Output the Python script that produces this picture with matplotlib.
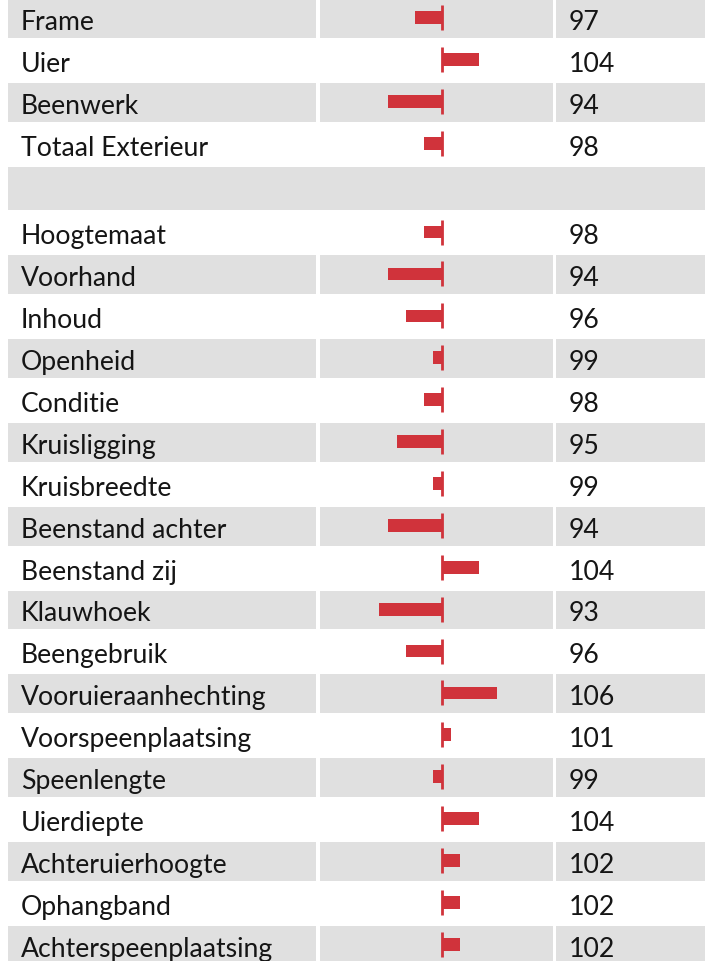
import matplotlib
matplotlib.use("Agg")
import matplotlib.pyplot as plt
from matplotlib.patches import Rectangle

labels = ["Frame", "Uier", "Beenwerk", "Totaal Exterieur", "",
          "Hoogtemaat", "Voorhand", "Inhoud", "Openheid", "Conditie",
          "Kruisligging", "Kruisbreedte", "Beenstand achter", "Beenstand zij",
          "Klauwhoek", "Beengebruik", "Vooruieraanhechting", "Voorspeenplaatsing",
          "Speenlengte", "Uierdiepte", "Achteruierhoogte", "Ophangband",
          "Achterspeenplaatsing"]
values = [97, 104, 94, 98, None,
          98, 94, 96, 99, 98,
          95, 99, 94, 104,
          93, 96, 106, 101,
          99, 104, 102, 102,
          102]
base = 100

W, H = 705, 962
RED = "#D0333B"
GREY = "#E0E0E0"
TXT = "#151515"
FONT = "Lato"
FS = 19.2

CELL, GAP, BLANK = 38.7, 3.2, 43.7
COL_L = (8, 315.7)
COL_B = (320, 552.7)
COL_V = (556, 710)
PX_PER_UNIT = 9.07
CENTER_PX = 442.3

fig = plt.figure(figsize=(W / 100, H / 100), dpi=100)
ax = fig.add_axes([0, 0, 1, 1])
ax.set_xlim(0, W)
ax.set_ylim(H, 0)
ax.axis("off")

ax2 = fig.add_axes([0, 0, 1, 1])
ax2.set_xlim(base - CENTER_PX / PX_PER_UNIT, base + (W - CENTER_PX) / PX_PER_UNIT)
ax2.set_ylim(H, 0)
ax2.axis("off")
ax2.patch.set_visible(False)

y = 0.0
centers = []
for i, (lab, v) in enumerate(zip(labels, values)):
    h = BLANK if v is None else CELL
    c = y + h / 2
    centers.append(c)
    if i % 2 == 0:
        if v is None:
            ax.add_patch(Rectangle((COL_L[0], y), COL_V[1] - COL_L[0], h, color=GREY, lw=0))
        else:
            for a, b in (COL_L, COL_B, COL_V):
                ax.add_patch(Rectangle((a, y), b - a, h, color=GREY, lw=0))
    if v is not None:
        ax.text(21, c + 0.5, lab, fontsize=FS, family=FONT, color=TXT,
                va="center_baseline", ha="left")
        ax.text(569, c + 0.5, str(v), fontsize=FS, family=FONT, color=TXT,
                va="center_baseline", ha="left")
    y += h + GAP

bc = [c - 0.8 for c, v in zip(centers, values) if v is not None]
bv = [v - base for v in values if v is not None]
ax2.barh(bc, bv, left=base, height=12.7, color=RED, lw=0)
ax2.vlines([base] * len(bc), [c - 12.5 for c in bc], [c + 12.5 for c in bc],
           color=RED, lw=2.0)

fig.savefig("out.png", dpi=100)
